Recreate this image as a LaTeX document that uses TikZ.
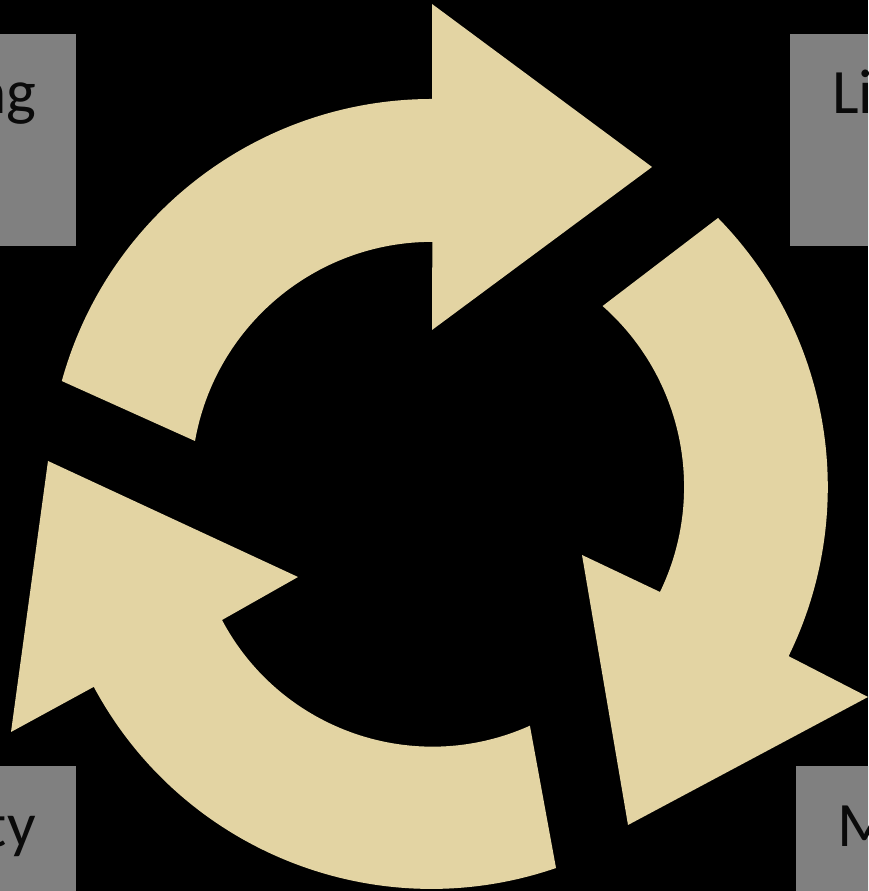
\documentclass[tikz,border=0pt]{standalone}
\usepackage{fontspec}
\setmainfont{Carlito}
\definecolor{tan1}{HTML}{E3D4A3}
\definecolor{boxgray}{HTML}{808080}
\definecolor{lblink}{HTML}{0A0A0A}
\tikzset{
  blk/.style={fill=boxgray, rectangle, inner sep=0pt, minimum height=4.24cm, minimum width=4cm},
  lbl/.style={inner sep=0pt, text=lblink, font=\fontsize{36}{40}\selectfont},
  arrowpath/.style={fill=tan1},
}
\begin{document}
\begin{tikzpicture}[x=0.02cm, y=0.02cm]

\useasboundingbox (0,0) rectangle (868,891);
\clip (0,0) rectangle (868,891);
\fill[black] (0,0) rectangle (868,891);

\node[blk, anchor=north east] (topleft) at (76,857) {};
\node[blk, anchor=north west] (topright) at (790,857) {};
\node[blk, anchor=north east] (botleft) at (76,125) {};
\node[blk, anchor=north west] (botright) at (796,125) {};

\node[lbl, anchor=base east] (topleftlbl) at (37,777) {ng};
\node[lbl, anchor=base west] (toprightlbl) at (832,777) {Li};
\node[lbl, anchor=base east] (botleftlbl) at (36,44) {ty};
\node[lbl, anchor=base west] (botrightlbl) at (837,44) {M};

\fill[arrowpath] (432,792) arc[start angle=90, end angle=164.6, radius=384]
  -- (195,450) arc[start angle=170, end angle=90, radius=241]
  -- (432,561) -- (652,724) -- (432,887) -- cycle;

\fill[arrowpath] (718,673) arc[start angle=44.4, end angle=-26.1, radius=384.5]
  -- (868,194) -- (628,66) -- (582,336) -- (660,299)
  arc[start angle=-25.8, end angle=48.5, radius=241.5] -- cycle;

\fill[arrowpath] (556,23) arc[start angle=289, end angle=208.2, radius=383]
  -- (11,159) -- (48,430) -- (298,314) -- (222,271)
  arc[start angle=207.9, end angle=294.2, radius=238] -- cycle;

\end{tikzpicture}
\end{document}
